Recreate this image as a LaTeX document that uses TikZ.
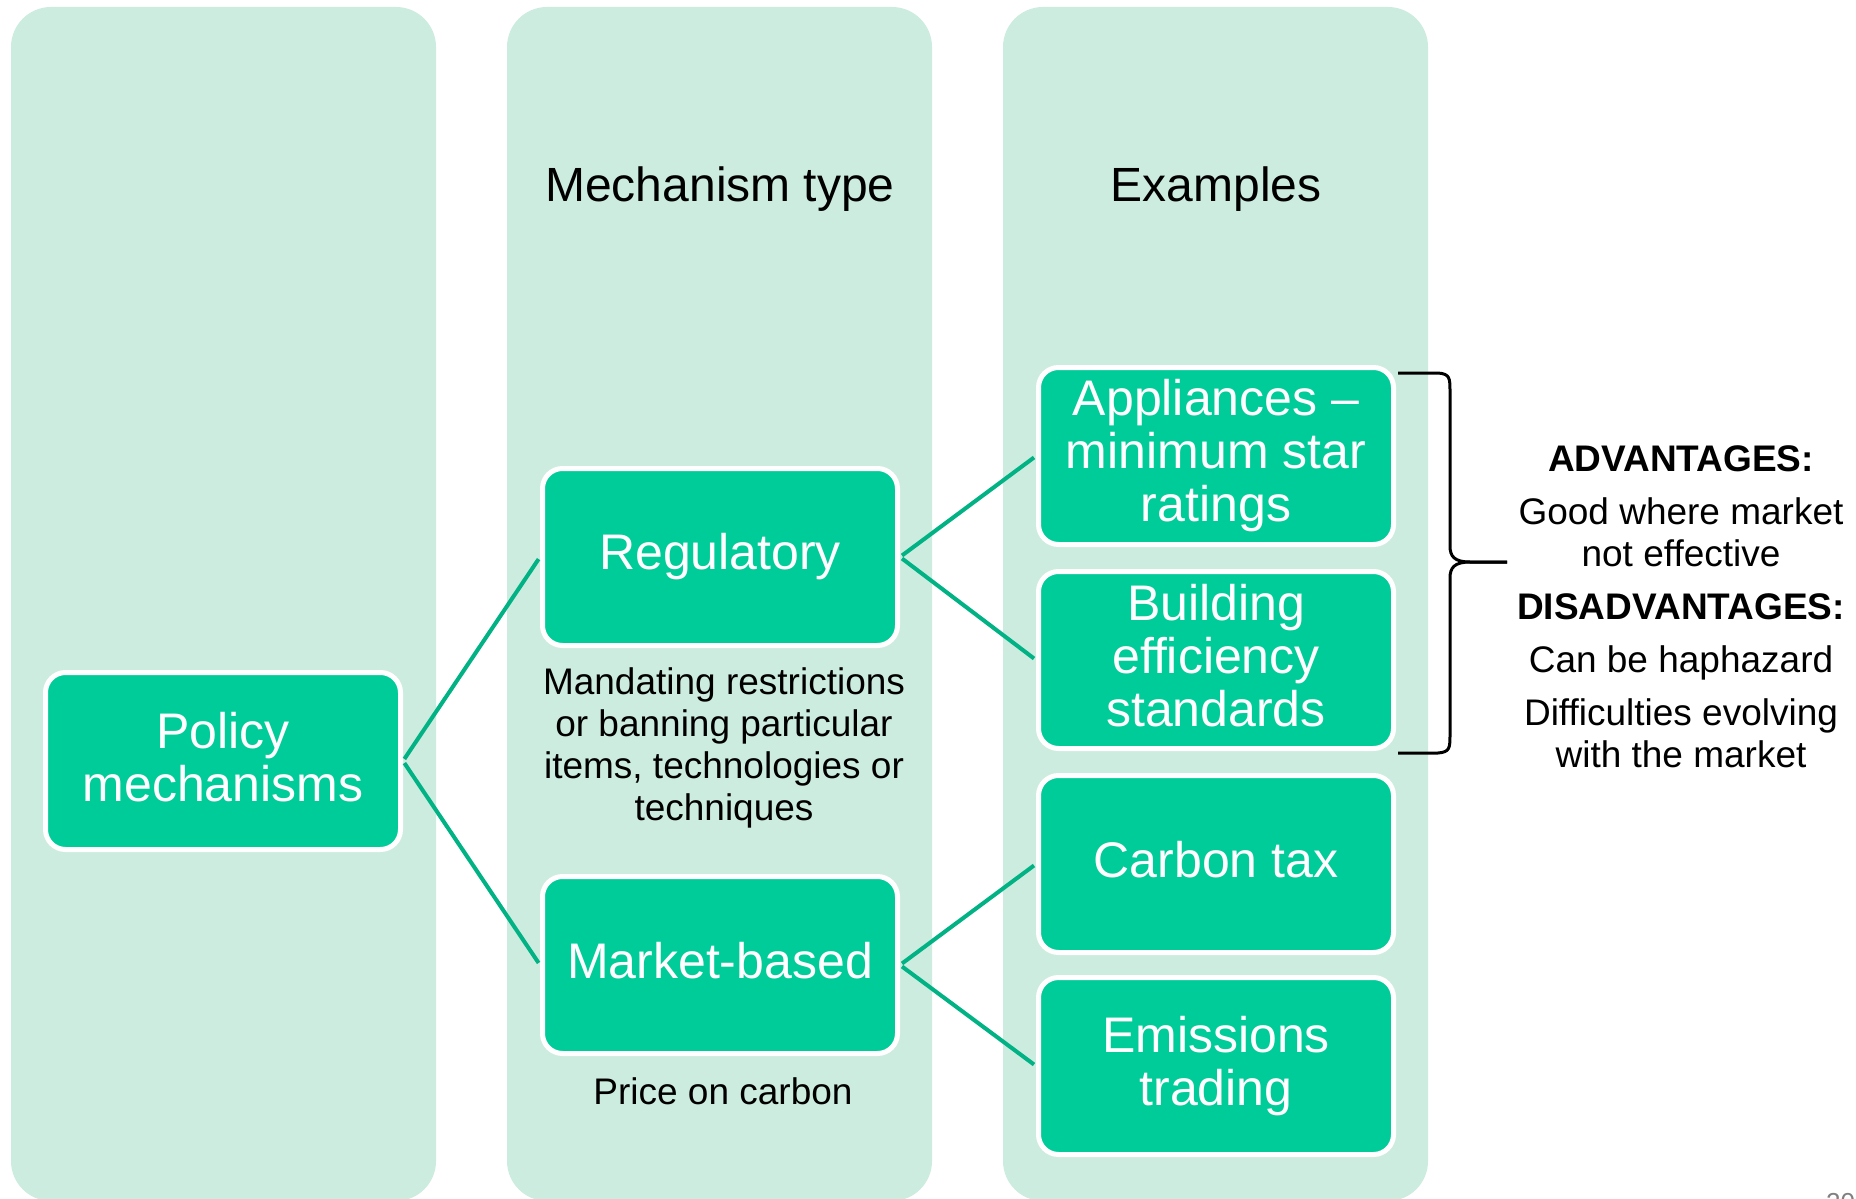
\documentclass[tikz,border=0pt]{standalone}
\usepackage{fontspec}
\setmainfont{Liberation Sans}
\definecolor{colbg}{RGB}{204,236,223}
\definecolor{boxgreen}{RGB}{0,204,153}
\definecolor{linkgreen}{RGB}{0,178,132}
\definecolor{pagegray}{RGB}{128,128,128}
% invisible rule giving the first and last box lines a fixed height and depth
\newcommand{\bs}{\rule[-9pt]{0pt}{44pt}}
\begin{document}
\begin{tikzpicture}[x=1pt,y=-1pt,
  column/.style={fill=colbg, rounded corners=40pt},
  greenbox/.style={draw=white, line width=5pt, fill=boxgreen, rounded corners=20pt,
    minimum width=355pt, minimum height=177pt, inner sep=0pt, text=white,
    align=center, font=\fontsize{50}{53}\selectfont},
  link/.style={draw=linkgreen, line width=4pt, shorten >=2.5pt, shorten <=2.5pt},
  heading/.style={inner sep=0pt, font=\fontsize{48}{52}\selectfont},
  note/.style={inner sep=0pt, align=center, font=\fontsize{37}{42}\selectfont},
  bracket/.style={draw=black, line width=3pt}
]
\clip (0,0) rectangle (1856,1199);
\fill[white] (0,0) rectangle (1856,1199);

% background columns
\fill[column] (11,7) rectangle (436,1201);
\fill[column] (507,7) rectangle (932,1201);
\fill[column] (1003,7) rectangle (1428,1201);

% column headings
\node[heading] (hmech) at (720,189) {Mechanism type};
\node[heading] (hex) at (1216,189) {Examples};

% boxes
\node[greenbox] (pol) at (223,761) {\bs Policy\\mechanisms\bs};
\node[greenbox] (reg) at (720,557) {\bs Regulatory\bs};
\node[greenbox] (mkt) at (720,965) {\bs Market-based\bs};
\node[greenbox] (app) at (1216,456) {\bs Appliances --\\minimum star\\ratings\bs};
\node[greenbox] (bld) at (1216,660) {\bs Building\\efficiency\\standards\bs};
\node[greenbox] (ctax) at (1216,864) {\bs Carbon tax\bs};
\node[greenbox] (ets) at (1216,1066) {\bs Emissions\\trading\bs};

% connectors
\draw[link] (pol.east) -- (reg.west);
\draw[link] (pol.east) -- (mkt.west);
\draw[link] (reg.east) -- (app.west);
\draw[link] (reg.east) -- (bld.west);
\draw[link] (mkt.east) -- (ctax.west);
\draw[link] (mkt.east) -- (ets.west);

% descriptions
\node[note] (regdesc) at (724,747.5) {Mandating restrictions\\or banning particular\\items, technologies or\\techniques};
\node[note] (mktdesc) at (723,1091) {Price on carbon};

% brace over the regulatory examples
\coordinate (btop) at (1398,373);
\coordinate (bbot) at (1398,753);
\coordinate (btip) at (1507,562);
\draw[bracket] (btop) -- (1438,373) .. controls (1450,374) and (1450,378) .. (1450,392)
  -- (1450,546) .. controls (1450,556) and (1454,562) .. (1470,562) -- (btip);
\draw[bracket] (bbot) -- (1438,753) .. controls (1450,752) and (1450,748) .. (1450,734)
  -- (1450,578) .. controls (1450,568) and (1454,562) .. (1470,562) -- (btip);

% advantages and disadvantages
\node[note] (pros) at (1681,607) {\textbf{ADVANTAGES:}\\[11pt]
  Good where market\\not effective\\[11pt]
  \textbf{DISADVANTAGES:}\\[11pt]
  Can be haphazard\\[11pt]
  Difficulties evolving\\with the market};

% page number
\node[anchor=north west, inner sep=0pt, text=pagegray, font=\fontsize{26}{26}\selectfont] (pnum) at (1826,1193) {20};
\end{tikzpicture}
\end{document}
